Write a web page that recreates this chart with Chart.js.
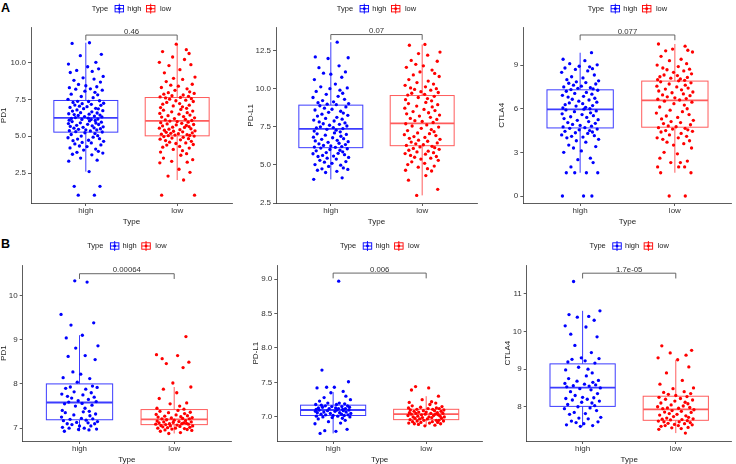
<!DOCTYPE html>
<html><head><meta charset="utf-8">
<script src="https://cdn.jsdelivr.net/npm/chart.js@4.4.1/dist/chart.umd.min.js"></script>
<style>
html,body{margin:0;padding:0;background:#fff;}
#wrap{position:relative;width:736px;height:464px;overflow:hidden;background:#fff;}
.panel{position:absolute;}
.tag{position:absolute;font:bold 12.5px "Liberation Sans",Arial,sans-serif;color:#000;line-height:15px;}
</style></head><body>
<div id="wrap">
<div class="tag" style="left:1px;top:1px">A</div>
<div class="tag" style="left:1px;top:237px">B</div>
</div>
<script>
// ---------- data ----------
const CATEGORIES = ['high', 'low'];
const LEGEND_TITLE = 'Type';
const X_TITLE = 'Type';

const A1_LABEL = 'PD1';
const A1_HIGH = [11.35,11.3,10.56,10.47,10.02,9.9,9.72,9.58,9.47,9.4,9.33,9.06,8.97,8.88,8.8,8.68,8.52,8.43,8.36,8.3,8.22,8.2,8.13,8.06,7.98,7.86,7.81,7.7,7.62,7.51,
7.41,7.37,7.36,7.3,7.24,7.21,7.17,7.12,7.1,7.04,7.01,6.96,6.9,6.87,6.86,6.79,6.74,6.71,6.66,6.6,6.58,6.53,6.5,6.47,6.44,6.41,6.37,6.34,6.31,6.27,
6.23,6.21,6.17,6.14,6.13,6.09,6.07,6.04,6.0,5.96,5.91,5.9,5.86,5.81,5.8,5.74,5.71,5.67,5.64,5.61,5.57,5.55,5.51,5.47,5.44,5.43,5.38,5.36,5.31,5.29,
5.24,5.18,5.12,5.04,5.01,4.94,4.9,4.84,4.81,4.73,4.7,4.66,4.58,4.55,4.48,4.41,4.34,4.3,4.21,4.13,4.06,3.98,3.91,3.86,3.78,3.74,3.52,3.38,3.31,2.6,
1.6,1.6,1.0,1.0];
const A1_LOW = [11.25,10.88,10.75,10.62,10.38,10.21,10.02,9.86,9.8,9.52,9.31,9.02,8.93,8.86,8.71,8.53,8.47,8.4,8.31,8.22,8.12,8.02,7.96,7.91,7.86,7.8,7.75,7.71,7.67,7.64,
7.6,7.55,7.52,7.45,7.41,7.36,7.3,7.22,7.18,7.11,7.06,7.0,6.95,6.9,6.82,6.77,6.71,6.66,6.6,6.55,6.5,6.44,6.4,6.34,6.3,6.25,6.2,6.15,6.11,6.07,
6.03,6.0,5.96,5.92,5.88,5.84,5.8,5.77,5.73,5.7,5.66,5.62,5.6,5.55,5.51,5.48,5.45,5.41,5.37,5.34,5.3,5.27,5.23,5.2,5.17,5.14,5.11,5.08,5.06,5.04,
5.01,4.98,4.93,4.88,4.84,4.8,4.76,4.71,4.66,4.6,4.55,4.51,4.44,4.4,4.31,4.26,4.2,4.11,4.02,3.93,3.82,3.71,3.52,3.41,3.3,3.24,3.2,2.76,2.55,2.3,2.03,
1.0,1.0];
const A1_BOX_HIGH = [2.6, 5.28, 6.25, 7.43, 11.35];
const A1_BOX_LOW = [2.03, 5.03, 6.05, 7.63, 11.25];
const A1_P = '0.46';
const A1_TICKS = [2.5, 5, 7.5, 10];
const A1_TICK_LABELS = ['2.5', '5.0', '7.5', '10.0'];

const A2_LABEL = 'PD-L1';
const A2_HIGH = [13.05,12.08,12.03,11.98,11.5,11.38,11.1,11.02,10.95,10.75,10.6,10.3,10.12,10.05,10.0,9.9,9.82,9.7,9.63,9.5,9.42,9.3,9.22,9.14,9.08,9.02,8.98,8.95,
8.88,8.8,8.72,8.65,8.6,8.52,8.45,8.4,8.33,8.25,8.2,8.12,8.05,8.0,7.94,7.88,7.82,7.75,7.7,7.66,7.6,7.55,7.5,7.45,7.42,7.38,
7.33,7.28,7.22,7.17,7.1,7.04,7.0,6.95,6.88,6.82,6.78,6.72,6.68,6.61,6.57,6.52,6.48,6.42,6.38,6.33,6.28,6.24,6.2,6.17,6.15,
6.1,6.06,6.01,5.96,5.92,5.86,5.81,5.76,5.73,5.67,5.62,5.58,5.55,5.49,5.44,5.38,5.3,5.22,5.18,5.1,5.02,4.98,4.9,4.8,4.74,4.7,4.65,4.58,4.5,4.15,4.05];
const A2_LOW = [12.9,12.85,12.4,12.3,12.2,11.85,11.8,11.6,11.5,11.4,11.22,11.1,11.0,10.9,10.8,10.6,10.5,10.4,10.3,10.22,10.12,10.05,10.0,9.95,9.9,9.8,9.75,9.7,9.63,9.58,
9.5,9.42,9.35,9.28,9.2,9.1,9.02,8.95,8.86,8.8,8.72,8.64,8.56,8.5,8.42,8.35,8.27,8.2,8.12,8.05,7.98,7.9,7.85,7.78,
7.7,7.62,7.55,7.48,7.4,7.32,7.25,7.18,7.1,7.05,6.98,6.92,6.86,6.8,6.74,6.68,6.62,6.55,6.5,6.44,6.38,6.32,6.28,
6.22,6.18,6.13,6.08,6.02,5.96,5.9,5.85,5.8,5.74,5.7,5.62,5.55,5.5,5.44,5.38,5.3,5.2,5.1,5.02,4.92,4.85,4.75,4.65,4.6,4.3,4.0,3.4,3.0];
const A2_BOX_HIGH = [4.05, 6.13, 7.36, 8.92, 13.05];
const A2_BOX_LOW = [3.0, 6.26, 7.73, 9.55, 12.9];
const A2_P = '0.07';
const A2_TICKS = [2.5, 5, 7.5, 10, 12.5];
const A2_TICK_LABELS = ['2.5', '5.0', '7.5', '10.0', '12.5'];

const A3_LABEL = 'CTLA4';
const A3_HIGH = [9.85,9.4,9.3,9.1,9.02,8.92,8.88,8.8,8.75,8.7,8.6,8.5,8.32,8.2,8.12,8.0,7.92,7.85,7.8,7.75,7.7,7.62,7.55,7.5,7.45,7.4,7.36,7.32,
7.27,7.2,7.12,7.05,7.0,6.92,6.85,6.8,6.72,6.65,6.6,6.52,6.45,6.4,6.35,6.28,6.22,6.18,6.1,6.05,6.0,5.97,
5.92,5.85,5.8,5.72,5.65,5.6,5.52,5.45,5.4,5.32,5.25,5.2,5.12,5.05,5.0,4.92,4.85,4.8,4.75,4.7,
4.65,4.6,4.55,4.5,4.45,4.4,4.35,4.3,4.2,4.15,4.1,4.05,4.0,3.9,3.8,3.7,3.5,3.4,3.3,3.1,3.0,2.6,2.5,2.3,2.0,1.6,1.6,1.6,1.6,0,0,0];
const A3_LOW = [10.45,10.3,10.1,10.02,9.98,9.9,9.6,9.4,9.3,9.1,9.0,8.9,8.8,8.72,8.68,8.6,8.5,8.4,8.32,8.28,8.2,8.15,8.1,8.05,8.0,7.95,7.92,
7.85,7.78,7.7,7.62,7.55,7.5,7.42,7.35,7.3,7.22,7.15,7.1,7.02,6.95,6.9,6.82,6.75,6.7,6.65,6.6,
6.52,6.45,6.35,6.25,6.12,6.0,5.9,5.8,5.7,5.6,5.5,5.4,5.3,5.2,5.12,5.05,4.98,4.9,4.82,4.76,
4.7,4.65,4.6,4.55,4.5,4.45,4.4,4.3,4.2,4.1,4.0,4.0,3.9,3.8,3.7,3.6,3.5,3.3,3.0,2.9,2.6,2.4,2.3,2.3,2.0,2.0,2.0,1.6,1.6,0,0];
const A3_BOX_HIGH = [1.6, 4.68, 5.95, 7.30, 9.85];
const A3_BOX_LOW = [1.6, 4.73, 6.57, 7.90, 10.45];
const A3_P = '0.077';
const A3_TICKS = [0, 3, 6, 9];
const A3_TICK_LABELS = ['0', '3', '6', '9'];

const B1_LABEL = 'PD1';
const B1_HIGH = [10.33,10.3,9.57,9.38,9.33,9.1,9.04,8.86,8.81,8.64,8.62,8.55,8.27,8.22,8.14,8.12,8.04,
7.95,7.93,7.92,7.9,7.88,7.82,7.8,7.77,7.75,7.72,7.7,7.68,7.65,7.62,7.6,7.59,
7.56,7.55,7.52,7.5,7.45,7.4,7.38,7.37,7.35,7.32,7.3,7.28,7.25,7.22,7.21,7.2,
7.18,7.17,7.15,7.13,7.12,7.1,7.1,7.08,7.05,7.05,7.02,7.0,7.0,6.98,6.97,6.96,6.93];
const B1_LOW = [9.07,8.66,8.64,8.57,8.49,8.46,8.37,8.02,7.93,7.88,7.8,7.67,7.57,7.55,7.5,7.45,7.43,
7.4,7.38,7.36,7.35,7.33,7.31,7.3,7.28,7.27,7.26,7.25,7.24,7.23,7.22,7.21,7.21,
7.19,7.18,7.17,7.16,7.15,7.14,7.14,7.13,7.12,7.12,7.11,7.1,7.1,7.09,7.09,7.08,
7.07,7.06,7.05,7.05,7.04,7.03,7.02,7.01,7.0,7.0,6.99,6.98,6.97,6.96,6.95,6.93,6.9,6.88];
const B1_BOX_HIGH = [6.93, 7.19, 7.58, 8.0, 9.1];
const B1_BOX_LOW = [6.88, 7.08, 7.2, 7.42, 7.93];
const B1_P = '0.00064';
const B1_TICKS = [7, 8, 9, 10];
const B1_TICK_LABELS = ['7', '8', '9', '10'];

const B2_LABEL = 'PD-L1';
const B2_HIGH = [8.97,7.68,7.51,7.43,7.43,7.42,7.37,7.35,7.3,7.28,7.25,7.23,7.2,7.2,7.19,7.18,7.18,
7.17,7.16,7.16,7.15,7.15,7.14,7.14,7.13,7.13,7.12,7.12,7.12,7.11,7.11,7.1,7.1,
7.1,7.09,7.09,7.08,7.08,7.07,7.07,7.06,7.06,7.05,7.05,7.04,7.04,7.03,7.03,7.02,
7.02,7.01,7.01,7.0,7.0,6.99,6.98,6.97,6.95,6.93,6.91,6.9,6.82,6.8,6.79,6.76];
const B2_LOW = [7.44,7.42,7.39,7.3,7.25,7.22,7.21,7.2,7.18,7.16,7.15,7.14,7.13,7.13,7.12,7.12,7.11,
7.11,7.1,7.1,7.09,7.09,7.08,7.08,7.07,7.07,7.06,7.06,7.05,7.05,7.05,7.04,7.04,
7.04,7.03,7.03,7.02,7.02,7.01,7.01,7.0,7.0,7.0,6.99,6.99,6.98,6.98,6.97,6.97,
6.96,6.95,6.95,6.95,6.94,6.94,6.93,6.93,6.92,6.92,6.91,6.91,6.9,6.9,6.89,6.88,6.87];
const B2_BOX_HIGH = [6.76, 7.02, 7.10, 7.17, 7.36];
const B2_BOX_LOW = [6.87, 6.96, 7.04, 7.11, 7.3];
const B2_P = '0.006';
const B2_TICKS = [7, 7.5, 8, 8.5, 9];
const B2_TICK_LABELS = ['7.0', '7.5', '8.0', '8.5', '9.0'];

const B3_LABEL = 'CTLA4';
const B3_HIGH = [11.33,10.55,10.45,10.4,10.38,10.3,10.15,10.12,9.93,9.86,9.63,9.44,9.3,9.28,9.26,9.22,9.19,9.16,
9.05,9.0,8.98,8.9,8.82,8.75,8.7,8.68,8.65,8.62,8.6,8.58,8.56,8.55,8.53,
8.5,8.48,8.45,8.4,8.35,8.3,8.25,8.24,8.22,8.2,8.18,8.15,8.12,8.1,8.06,8.03,
8.0,7.97,7.95,7.9,7.85,7.82,7.8,7.72,7.7,7.68,7.62,7.6,7.58,7.55,7.52,7.5,7.48];
const B3_LOW = [9.62,9.5,9.43,9.37,9.3,9.25,9.06,8.9,8.7,8.6,8.5,8.48,8.4,8.38,8.35,8.33,8.3,
8.27,8.25,8.22,8.2,8.18,8.15,8.12,8.1,8.08,8.05,8.02,8.0,7.98,7.97,7.96,7.95,
7.92,7.9,7.88,7.86,7.85,7.82,7.8,7.78,7.76,7.74,7.72,7.7,7.68,7.67,7.66,7.65,
7.63,7.62,7.6,7.6,7.58,7.56,7.55,7.53,7.52,7.5,7.5,7.48,7.45,7.44,7.42,7.4,7.3];
const B3_BOX_HIGH = [7.48, 8.01, 8.51, 9.14, 10.55];
const B3_BOX_LOW = [7.3, 7.64, 7.93, 8.28, 9.25];
const B3_P = '1.7e-05';
const B3_TICKS = [8, 9, 10, 11];
const B3_TICK_LABELS = ['8', '9', '10', '11'];

// horizontal jitter pattern (fraction of category spacing)
const JITTER = [0.04,-0.15,0.17,-0.06,0.11,-0.19,0.02,0.14,-0.1,0.07,
-0.17,0.19,-0.03,0.09,-0.13,0.16,-0.08,0.0,0.12,-0.18,
0.05,-0.11,0.18,-0.01,0.1,-0.16,0.13,-0.05,0.08,-0.195,
0.15,-0.09,0.03,-0.14,0.195,-0.04,0.06,-0.12,0.165,-0.07,
0.013,-0.173,0.108,-0.024,0.137,-0.097,0.186,-0.146,0.066,-0.057,
0.124,-0.187,0.036,-0.127,0.155,-0.083,0.094,-0.014,0.176,-0.114,
0.027,-0.158,0.132,-0.043,0.058,-0.182,0.103];

// ---------- style ----------
const PT_COLORS = ['#0000FF', '#FF0000'];
const BOX_COLORS = ['#3c3cff', '#ff5c5c'];
const FONT = '"Liberation Sans", Arial, Helvetica, sans-serif';
const TXT = '#333333';

const PANELS = [
  {label:A1_LABEL, groups:[A1_HIGH,A1_LOW], boxes:[A1_BOX_HIGH,A1_BOX_LOW], p:A1_P, bracket:11.87, ticks:A1_TICKS, tickLabels:A1_TICK_LABELS, ymin:0.47, ymax:12.37,
   cl:-1, top:0, L:31, R:232, T:27.7, B:203, legendY:8.7},
  {label:A2_LABEL, groups:[A2_HIGH,A2_LOW], boxes:[A2_BOX_HIGH,A2_BOX_LOW], p:A2_P, bracket:13.55, ticks:A2_TICKS, tickLabels:A2_TICK_LABELS, ymin:2.5, ymax:14.0,
   cl:246, top:0, L:276, R:477, T:27.7, B:203, legendY:8.7},
  {label:A3_LABEL, groups:[A3_HIGH,A3_LOW], boxes:[A3_BOX_HIGH,A3_BOX_LOW], p:A3_P, bracket:11.07, ticks:A3_TICKS, tickLabels:A3_TICK_LABELS, ymin:-0.48, ymax:11.57,
   cl:497, top:0, L:523.3, R:731.7, T:27.7, B:203, legendY:8.7},
  {label:B1_LABEL, groups:[B1_HIGH,B1_LOW], boxes:[B1_BOX_HIGH,B1_BOX_LOW], p:B1_P, bracket:10.49, ticks:B1_TICKS, tickLabels:B1_TICK_LABELS, ymin:6.71, ymax:10.68,
   cl:-1, top:232, L:22.7, R:231, T:265.3, B:441, legendY:14},
  {label:B2_LABEL, groups:[B2_HIGH,B2_LOW], boxes:[B2_BOX_HIGH,B2_BOX_LOW], p:B2_P, bracket:9.087, ticks:B2_TICKS, tickLabels:B2_TICK_LABELS, ymin:6.65, ymax:9.2,
   cl:251, top:232, L:277.3, R:482, T:265.3, B:441, legendY:14},
  {label:B3_LABEL, groups:[B3_HIGH,B3_LOW], boxes:[B3_BOX_HIGH,B3_BOX_LOW], p:B3_P, bracket:11.55, ticks:B3_TICKS, tickLabels:B3_TICK_LABELS, ymin:7.09, ymax:11.76,
   cl:503, top:232, L:526.7, R:731.7, T:265.3, B:441, legendY:14}
];

function makePlugin(p) {
  return {
    id: 'boxdeco',
    beforeDatasetsDraw(chart) {
      const {ctx, scales:{x, y}} = chart;
      p.boxes.forEach((s, i) => {
        const xc = x.getPixelForValue(i + 1);
        const x0 = x.getPixelForValue(i + 1 - 0.35), x1 = x.getPixelForValue(i + 1 + 0.35);
        const [lo, q1, med, q3, hi] = s.map(v => y.getPixelForValue(v));
        ctx.save();
        ctx.strokeStyle = BOX_COLORS[i];
        ctx.lineWidth = 1;
        ctx.beginPath();
        ctx.moveTo(xc, lo); ctx.lineTo(xc, q1);
        ctx.moveTo(xc, q3); ctx.lineTo(xc, hi);
        ctx.stroke();
        ctx.strokeRect(x0, q3, x1 - x0, q1 - q3);
        ctx.lineWidth = 1.8;
        ctx.beginPath(); ctx.moveTo(x0, med); ctx.lineTo(x1, med); ctx.stroke();
        ctx.restore();
      });
    },
    afterDatasetsDraw(chart) {
      const {ctx, scales:{x, y}} = chart;
      const yb = y.getPixelForValue(p.bracket);
      const yt = y.getPixelForValue(p.bracket - 0.03 * (p.ymax - p.ymin));
      const xa = x.getPixelForValue(1), xb = x.getPixelForValue(2);
      ctx.save();
      ctx.strokeStyle = '#555';
      ctx.lineWidth = 0.9;
      ctx.beginPath();
      ctx.moveTo(xa, yt); ctx.lineTo(xa, yb); ctx.lineTo(xb, yb); ctx.lineTo(xb, yt);
      ctx.stroke();
      ctx.fillStyle = TXT;
      ctx.font = '7.8px ' + FONT;
      ctx.textAlign = 'center';
      ctx.textBaseline = 'alphabetic';
      ctx.fillText(p.p, (xa + xb) / 2, yb - 1.4);
      ctx.restore();
    },
    afterDraw(chart) {
      const {ctx, chartArea} = chart;
      ctx.save();
      ctx.font = '7.5px ' + FONT;
      const wT = ctx.measureText(LEGEND_TITLE).width;
      const wH = ctx.measureText(CATEGORIES[0]).width;
      const wL = ctx.measureText(CATEGORIES[1]).width;
      const icon = 10.5;
      const total = wT + 6 + icon + 2.7 + wH + 4 + icon + 4 + wL;
      let cx = (chartArea.left + chartArea.right) / 2 - total / 2;
      const cy = p.legendY;
      ctx.fillStyle = '#222';
      ctx.textBaseline = 'middle';
      ctx.textAlign = 'left';
      ctx.fillText(LEGEND_TITLE, cx, cy);
      cx += wT + 6;
      const drawIcon = (x0, col) => {
        const mx = x0 + icon / 2;
        ctx.strokeStyle = col; ctx.lineWidth = 0.9;
        ctx.beginPath(); ctx.moveTo(mx, cy - 5); ctx.lineTo(mx, cy + 5); ctx.stroke();
        ctx.strokeRect(x0 + 1, cy - 3.2, icon - 2, 6.4);
        ctx.beginPath(); ctx.moveTo(x0 + 1, cy); ctx.lineTo(x0 + icon - 1, cy); ctx.stroke();
        ctx.fillStyle = col;
        ctx.beginPath(); ctx.arc(mx, cy, 1.4, 0, Math.PI * 2); ctx.fill();
      };
      drawIcon(cx, PT_COLORS[0]);
      cx += icon + 2.7;
      ctx.fillStyle = '#222';
      ctx.fillText(CATEGORIES[0], cx, cy);
      cx += wH + 4;
      drawIcon(cx, PT_COLORS[1]);
      cx += icon + 4;
      ctx.fillStyle = '#222';
      ctx.fillText(CATEGORIES[1], cx, cy);
      ctx.restore();
    }
  };
}

const wrap = document.getElementById('wrap');
PANELS.forEach((p, pi) => {
  const W = p.L - p.cl;
  const H = 23.5;
  const cw = Math.ceil(W + (p.R - p.L) + 3);
  const ch = Math.ceil(p.B - p.top + H);
  const div = document.createElement('div');
  div.className = 'panel';
  div.style.left = p.cl + 'px';
  div.style.top = p.top + 'px';
  div.style.width = cw + 'px';
  div.style.height = ch + 'px';
  const cv = document.createElement('canvas');
  cv.width = cw; cv.height = ch;
  cv.style.width = cw + 'px'; cv.style.height = ch + 'px';
  div.appendChild(cv);
  wrap.appendChild(div);

  const datasets = p.groups.map((vals, gi) => ({
    label: CATEGORIES[gi],
    data: vals.map((v, i) => ({x: gi + 1 + JITTER[(i + gi * 23 + pi * 9) % JITTER.length], y: v})),
    backgroundColor: PT_COLORS[gi],
    borderWidth: 0,
    pointRadius: 1.65,
    pointHoverRadius: 1.65
  }));

  new Chart(cv, {
    type: 'scatter',
    data: {datasets},
    plugins: [makePlugin(p)],
    options: {
      responsive: false,
      animation: false,
      events: [],
      layout: {padding: {top: p.T - p.top, right: cw - W - (p.R - p.L), left: 0, bottom: ch - (p.B - p.top) - H}},
      plugins: {legend: {display: false}, tooltip: {enabled: false}},
      scales: {
        x: {
          type: 'linear', min: 0.4, max: 2.6,
          afterBuildTicks: s => { s.ticks = [{value: 1}, {value: 2}]; },
          afterFit: s => { s.height = H; },
          ticks: {autoSkip: false, maxRotation: 0, padding: 0, color: TXT, font: {family: FONT, size: 8},
                  callback: (v, i) => CATEGORIES[i]},
          grid: {display: true, drawOnChartArea: false, drawTicks: true, tickLength: 3, color: '#333', lineWidth: 0.8},
          border: {display: true, color: '#333', width: 0.8},
          title: {display: true, text: X_TITLE, color: '#222', font: {family: FONT, size: 8}, padding: 0}
        },
        y: {
          type: 'linear', min: p.ymin, max: p.ymax,
          afterBuildTicks: s => { s.ticks = p.ticks.map(v => ({value: v})); },
          afterFit: s => { s.width = W; },
          ticks: {autoSkip: false, padding: 2, color: TXT, font: {family: FONT, size: 8},
                  callback: (v, i) => p.tickLabels[i]},
          grid: {display: true, drawOnChartArea: false, drawTicks: true, tickLength: 3, color: '#333', lineWidth: 0.8},
          border: {display: true, color: '#333', width: 0.8},
          title: {display: true, text: p.label, color: '#222', font: {family: FONT, size: 8}, padding: 0}
        }
      }
    }
  });
});
</script>
</body></html>
